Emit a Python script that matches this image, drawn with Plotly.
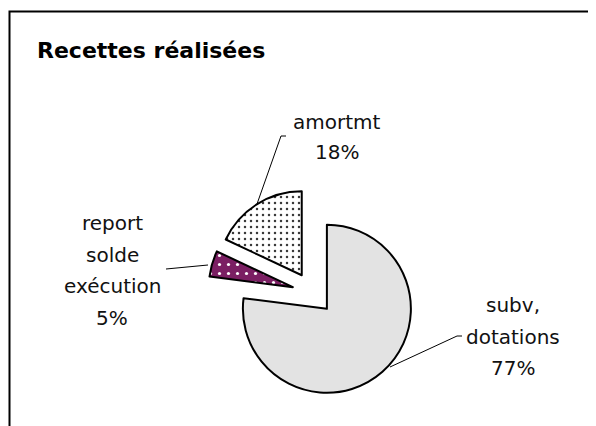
import plotly.graph_objects as go

# ---- data ----
categories = ["subv, dotations", "report solde exécution", "amortmt"]
values = [77, 5, 18]
label_lines = [["subv,", "dotations"], ["report", "solde", "exécution"], ["amortmt"]]
title_text = "Recettes réalisées"

# ---- styles ----
W, H = 596, 426
OFF = 8  # page body margin offset
fill_colors = ["#e3e3e3", "#7b1f63", "#ffffff"]
pattern_shapes = ["", ".", "."]
pattern_fg = ["#e3e3e3", "#ffffff", "#3a3a3a"]
pattern_bg = ["#e3e3e3", "#7b1f63", "#ffffff"]
pattern_size = [6, 9, 6]
pattern_solid = [0.1, 0.1, 0.14]

def px(x):
    return (x - OFF) / W

def py(y):
    return 1 - (y - OFF) / H

fig = go.Figure()
fig.add_trace(go.Pie(
    labels=categories,
    values=values,
    sort=False,
    direction="clockwise",
    rotation=0,
    pull=[0.25, 0.25, 0.25],
    textinfo="none",
    hoverinfo="label+percent",
    showlegend=False,
    domain=dict(x=[px(208), px(418)], y=[py(398), py(188)]),
    marker=dict(
        colors=fill_colors,
        line=dict(color="#000000", width=2),
        pattern=dict(shape=pattern_shapes, fgcolor=pattern_fg, bgcolor=pattern_bg,
                     size=pattern_size, solidity=pattern_solid, fillmode="replace"),
    ),
))

total = sum(values)
label_font = dict(family="DejaVu Sans", size=20, color="#111111")
# label block anchors: (center x, first line y, line spacing)
label_anchor = [(513, 305, 31.5), (112, 223, 31.5), (337, 122, 30)]
annotations = []
for i, lines in enumerate(label_lines):
    cx, y0, dy = label_anchor[i]
    allines = lines + [f"{round(values[i] / total * 100)}%"]
    for k, t in enumerate(allines):
        annotations.append(dict(text=t, x=px(cx), y=py(y0 + k * dy), xref="paper", yref="paper",
                                xanchor="center", yanchor="middle", showarrow=False, font=label_font))

# leader lines (label decorations)
leaders = [
    [(462, 336), (457, 336), (390, 367)],
    [(166, 269), (208, 265)],
    [(286, 136), (281, 136), (257, 204)],
]
shapes = []
for pts in leaders:
    path = "M " + " L ".join(f"{px(x)},{py(y)}" for x, y in pts)
    shapes.append(dict(type="path", path=path, xref="paper", yref="paper",
                       line=dict(color="#000000", width=1)))
# chart frame (partially cropped)
frame = [(9.5, 440), (9.5, 11.5), (620, 11.5)]
shapes.append(dict(type="path", path="M " + " L ".join(f"{px(x)},{py(y)}" for x, y in frame),
                   xref="paper", yref="paper", line=dict(color="#000000", width=2)))

fig.update_layout(
    width=W, height=H,
    margin=dict(l=0, r=0, t=0, b=0),
    paper_bgcolor="#ffffff",
    plot_bgcolor="#ffffff",
    title=dict(text=f"<b>{title_text}</b>", x=px(37), y=py(50), xanchor="left", yanchor="middle",
               font=dict(family="DejaVu Sans", size=22, color="#000000")),
    annotations=annotations,
    shapes=shapes,
)

fig.write_html("out.html")
